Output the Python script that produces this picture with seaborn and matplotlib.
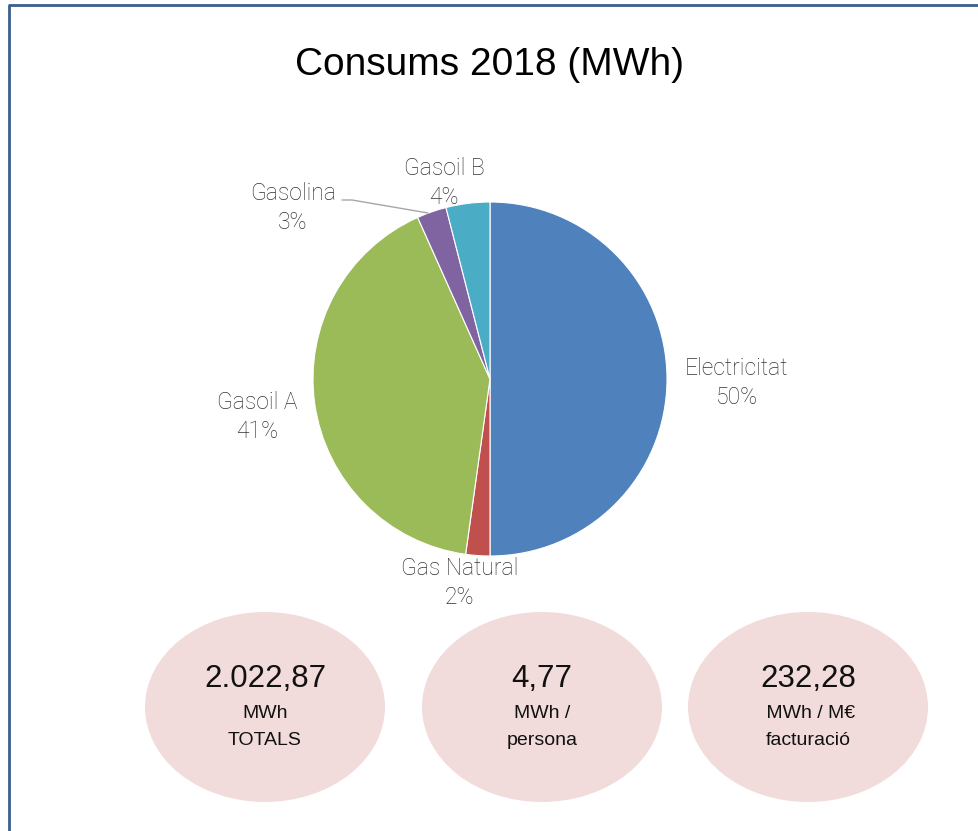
import matplotlib
matplotlib.use('Agg')
import matplotlib.pyplot as plt
from matplotlib.patches import Ellipse
import seaborn as sns

sns.set_theme(style='white')
plt.rcParams['font.family'] = ['Liberation Sans', 'DejaVu Sans']

# dades
fonts = ['Electricitat', 'Gas Natural', 'Gasoil A', 'Gasolina', 'Gasoil B']
percentatges = [50.0, 2.2, 41.1, 2.7, 4.0]
colors = ['#4F81BD', '#C0504D', '#9BBB59', '#8064A2', '#4BACC6']

xifres = ['2.022,87', '4,77', '232,28']
unitats = ['MWh\nTOTALS', 'MWh /\npersona', ' MWh / M€\nfacturació']

W, H = 979, 831
fig = plt.figure(figsize=(W / 100, H / 100), dpi=100)
ax = fig.add_axes([0, 0, 1, 1])

# pastís
ax.pie(percentatges, colors=sns.color_palette(colors), startangle=90, counterclock=False,
       center=(490, H - 379), radius=177,
       wedgeprops=dict(edgecolor='white', linewidth=0.8))
ax.set_xlim(0, W)
ax.set_ylim(0, H)
ax.set_aspect('equal')
ax.axis('off')

# etiquetes
pos_etiquetes = [(737, 383), (460, 583), (257, 417), (293, 208), (444, 183)]
for nom, pct, (x, y) in zip(fonts, percentatges, pos_etiquetes):
    ax.text(x, H - y, f"{nom}\n{round(pct)}%", ha='center', va='center',
            fontsize=16.5, color='#333333', linespacing=1.36,
            family=['Roboto', 'DejaVu Sans'], fontweight='light')

# línia guia de Gasolina
ax.plot([342, 352, 428], [H - 200, H - 200, H - 213], color='#A6A6A6', lw=1)

# títol
ax.text(490, H - 65, 'Consums 2018 (MWh)', ha='center', va='center',
        fontsize=28, color='black')

# el·lipses amb indicadors
centres = [265, 542, 808]
for cx, xifra, unitat in zip(centres, xifres, unitats):
    ax.add_patch(Ellipse((cx, H - 707), 240, 190, facecolor='#F2DCDB', edgecolor='none'))
    ax.text(cx, H - 679, xifra, ha='center', va='center', fontsize=22.5, color='#111111')
    ax.text(cx, H - 727, unitat, ha='center', va='center', fontsize=14,
            color='#111111', linespacing=1.75)

# marc
ax.plot([8, W], [H - 5, H - 5], color='#3B5F8E', lw=2, solid_capstyle='butt')
ax.plot([9, 9], [H - 5, 0], color='#3B5F8E', lw=2, solid_capstyle='butt')

fig.savefig('out.png', dpi=100)
